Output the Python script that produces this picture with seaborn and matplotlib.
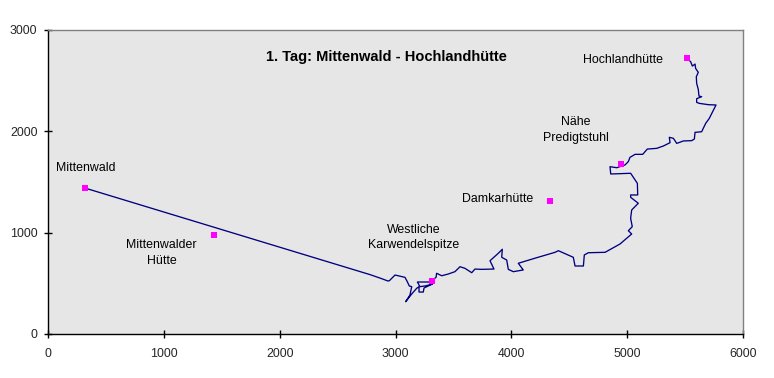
# Hoehenprofil 1. Tag: Mittenwald - Hochlandhuette
import matplotlib
matplotlib.use("Agg")
import matplotlib.pyplot as plt
import pandas as pd
import seaborn as sns

# Track (Strecke in m, Hoehe in m)
strecke = [320, 2780, 2866, 2935, 2947, 2996, 3082, 3102, 3119, 3140, 3125, 3088, 3140, 3183, 3203, 3203,
           3240, 3246, 3283, 3318, 3260, 3211, 3189, 3298, 3350, 3355, 3399, 3456, 3513, 3557, 3600, 3658,
           3686, 3744, 3850, 3816, 3887, 3922, 3917, 3960, 3974, 4017, 4103, 4060, 4219, 4377, 4406, 4535,
           4550, 4622, 4630, 4665, 4809, 4938, 5039, 5010, 5044, 5030, 5039, 5096, 5030, 5030, 5091, 5088,
           5030, 4858, 4852, 4910, 4981, 5010, 5024, 5068, 5134, 5174, 5255, 5312, 5370, 5364, 5399, 5428,
           5485, 5557, 5580, 5586, 5643, 5678, 5709, 5738, 5767, 5701, 5623, 5600, 5600, 5643, 5620, 5614,
           5600, 5597, 5614, 5591, 5586, 5563, 5548, 5514]
hoehe = [1440, 586, 552, 523, 526, 582, 559, 516, 474, 467, 385, 319, 395, 451, 467, 414,
         414, 454, 474, 493, 475, 467, 513, 513, 559, 599, 575, 592, 615, 664, 648, 605,
         641, 638, 641, 723, 796, 836, 757, 730, 638, 615, 632, 698, 753, 806, 822, 757,
         671, 671, 780, 802, 806, 888, 987, 1019, 1059, 1142, 1224, 1290, 1349, 1372, 1372, 1487,
         1586, 1579, 1651, 1641, 1668, 1701, 1743, 1773, 1773, 1825, 1832, 1855, 1888, 1941, 1931, 1881,
         1905, 1908, 1924, 1990, 1996, 2079, 2128, 2194, 2260, 2263, 2276, 2286, 2322, 2342, 2348, 2414,
         2473, 2539, 2582, 2621, 2664, 2644, 2687, 2723]

# Huetten / Wegpunkte
punkte_x = [320, 1433, 3315, 4334, 4947, 5517]
punkte_y = [1440, 977, 523, 1312, 1678, 2724]

# Beschriftungen
namen = ["Mittenwald", "Mittenwalder\nHütte", "Westliche\nKarwendelspitze", "Damkarhütte", "Nähe\nPredigtstuhl", "Hochlandhütte"]
namen_x = [325, 982, 3160, 3879, 4557, 4960]
namen_y = [1641, 801, 952, 1332, 2016, 2703]
titel = "1. Tag: Mittenwald - Hochlandhütte"

x_ticks = [0, 1000, 2000, 3000, 4000, 5000, 6000]
y_ticks = [0, 1000, 2000, 3000]

sns.set_style("white")
plt.rcParams["font.family"] = ["Liberation Sans", "DejaVu Sans"]

track = pd.DataFrame({"strecke": strecke, "hoehe": hoehe})
huetten = pd.DataFrame({"x": punkte_x, "y": punkte_y})

fig = plt.figure(figsize=(7.74, 3.78), dpi=100)
ax = fig.add_axes([48 / 774, 44 / 378, 695 / 774, 304 / 378])
ax.set_facecolor("#E6E6E6")

sns.lineplot(data=track, x="strecke", y="hoehe", sort=False, estimator=None, color="#000080", linewidth=0.95, ax=ax)
sns.scatterplot(data=huetten, x="x", y="y", marker="s", color="#FF00FF", s=25, linewidth=0, zorder=3, ax=ax)

for name, nx, ny in zip(namen, namen_x, namen_y):
    ax.text(nx, ny, name, ha="center", va="center", fontsize=8.9, color="black", linespacing=1.4)
ax.text(2924, 2730, titel, ha="center", va="center", fontsize=10.5, fontweight="bold", color="black")

ax.set_xlim(0, 6000)
ax.set_ylim(0, 3000)
ax.set_xticks(x_ticks)
ax.set_yticks(y_ticks)
ax.set_xlabel("")
ax.set_ylabel("")
ax.tick_params(axis="both", direction="inout", length=5.8, width=1, color="black", labelsize=8.9, left=True, bottom=True)
ax.tick_params(axis="x", pad=7)
ax.tick_params(axis="y", pad=4.7)

ax.spines["left"].set_color("black")
ax.spines["bottom"].set_color("black")
ax.spines["top"].set_color("#808080")
ax.spines["right"].set_color("#808080")
for s in ax.spines.values():
    s.set_linewidth(1)

fig.savefig("out.png", dpi=100, facecolor="white")
